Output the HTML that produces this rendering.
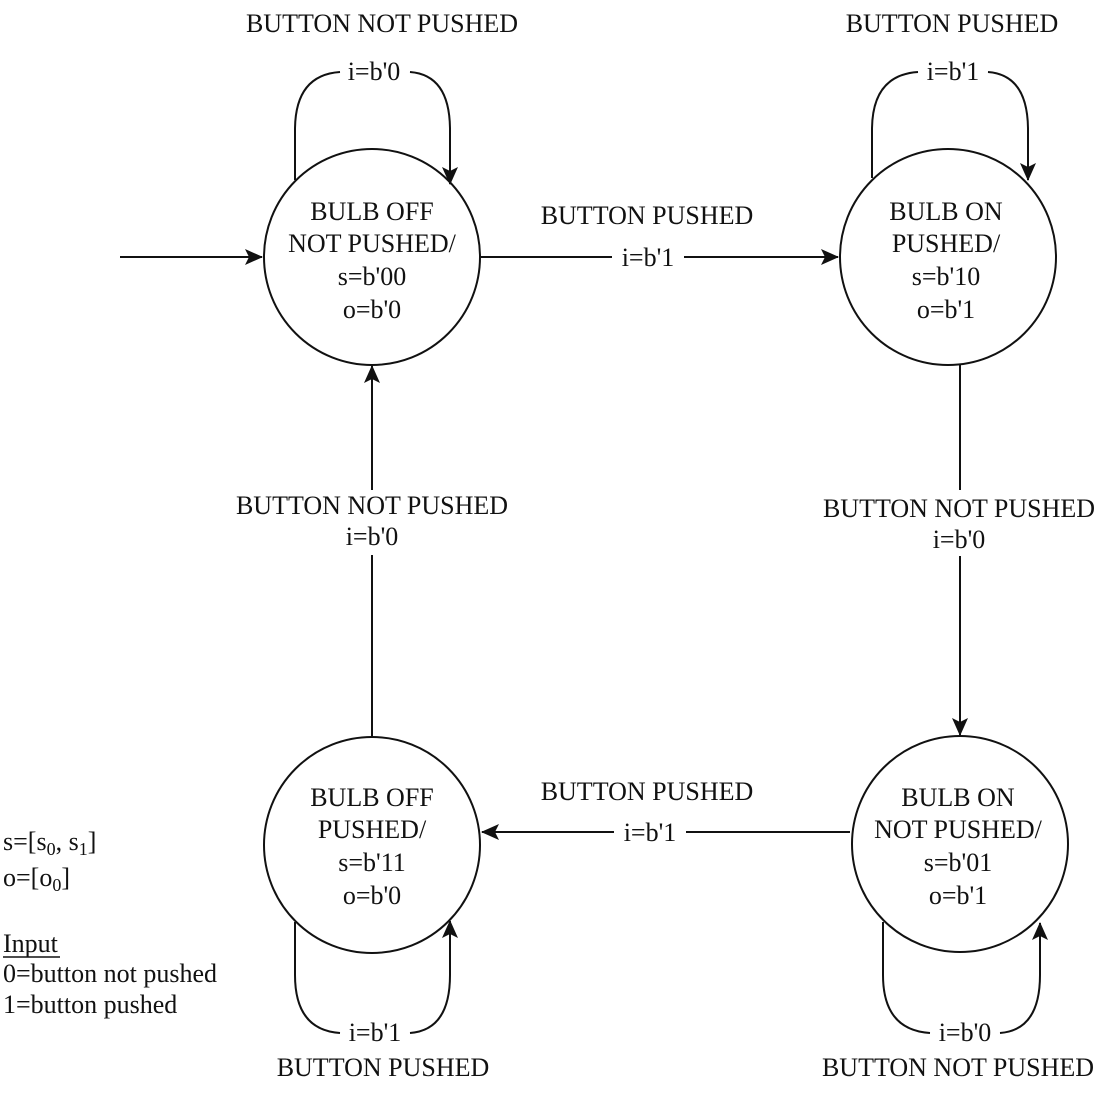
<!DOCTYPE html>
<html><head><style>body{margin:0;background:#fff}svg{display:block}text{font-family:"Liberation Serif",serif;font-size:26px;fill:#111}</style></head>
<body>
<svg width="1109" height="1104" viewBox="0 0 1109 1104">
<defs><marker id="a" markerWidth="18" markerHeight="18" refX="17" refY="8" orient="auto" markerUnits="userSpaceOnUse"><path d="M0,0 L18,8 L0,16 L4,8 Z" fill="#111"/></marker></defs>
<g fill="none" stroke="#111" stroke-width="2">
<circle cx="372" cy="257" r="108"/>
<circle cx="948" cy="257" r="108"/>
<circle cx="372" cy="845" r="108"/>
<circle cx="960" cy="844" r="108"/>
<line x1="120" y1="257" x2="262" y2="257" marker-end="url(#a)"/>
<line x1="481" y1="257" x2="612" y2="257"/>
<line x1="684" y1="257" x2="838" y2="257" marker-end="url(#a)"/>
<line x1="960" y1="365" x2="960" y2="490"/>
<line x1="960" y1="556" x2="960" y2="735" marker-end="url(#a)"/>
<line x1="850" y1="832" x2="686" y2="832"/>
<line x1="614" y1="832" x2="482" y2="832" marker-end="url(#a)"/>
<line x1="372" y1="737" x2="372" y2="555"/>
<line x1="372" y1="490" x2="372" y2="366" marker-end="url(#a)"/>
<path d="M295,180 L295,130 Q295,75 340,72"/>
<path d="M410,72 Q450,75 450,130 L450,184" marker-end="url(#a)"/>
<path d="M872,178 L872,130 Q872,75 918,72"/>
<path d="M988,72 Q1028,75 1028,130 L1028,180" marker-end="url(#a)"/>
<path d="M295,922 L295,975 Q295,1030 340,1033"/>
<path d="M410,1033 Q450,1030 450,975 L450,921" marker-end="url(#a)"/>
<path d="M883,922 L883,975 Q883,1030 930,1033"/>
<path d="M1000,1033 Q1040,1030 1040,975 L1040,923" marker-end="url(#a)"/>
</g>
<g text-anchor="middle">
<text x="382" y="32">BUTTON NOT PUSHED</text>
<text x="374" y="80">i=b'0</text>
<text x="952" y="32">BUTTON PUSHED</text>
<text x="953" y="80">i=b'1</text>
<text x="372" y="220">BULB OFF</text><text x="372" y="252">NOT PUSHED/</text><text x="372" y="285">s=b'00</text><text x="372" y="318">o=b'0</text>
<text x="946" y="220">BULB ON</text><text x="946" y="252">PUSHED/</text><text x="946" y="285">s=b'10</text><text x="946" y="318">o=b'1</text>
<text x="647" y="224">BUTTON PUSHED</text><text x="648" y="266">i=b'1</text>
<text x="959" y="517">BUTTON NOT PUSHED</text><text x="959" y="548">i=b'0</text>
<text x="372" y="514">BUTTON NOT PUSHED</text><text x="372" y="545">i=b'0</text>
<text x="647" y="800">BUTTON PUSHED</text><text x="650" y="841">i=b'1</text>
<text x="372" y="806">BULB OFF</text><text x="372" y="838">PUSHED/</text><text x="372" y="871">s=b'11</text><text x="372" y="904">o=b'0</text>
<text x="958" y="806">BULB ON</text><text x="958" y="838">NOT PUSHED/</text><text x="958" y="871">s=b'01</text><text x="958" y="904">o=b'1</text>
<text x="375" y="1041">i=b'1</text><text x="383" y="1076">BUTTON PUSHED</text>
<text x="965" y="1041">i=b'0</text><text x="958" y="1076">BUTTON NOT PUSHED</text>
</g>
<g>
<text x="3" y="850">s=[s<tspan font-size="18" dy="5">0</tspan><tspan dy="-5">, s</tspan><tspan font-size="18" dy="5">1</tspan><tspan dy="-5">]</tspan></text>
<text x="3" y="886">o=[o<tspan font-size="18" dy="5">0</tspan><tspan dy="-5">]</tspan></text>
<text x="3" y="952">Input</text>
<text x="3" y="982">0=button not pushed</text>
<text x="3" y="1013">1=button pushed</text>
</g>
<line x1="3" y1="957" x2="60" y2="957" stroke="#111" stroke-width="1.5"/>
</svg>
</body></html>
